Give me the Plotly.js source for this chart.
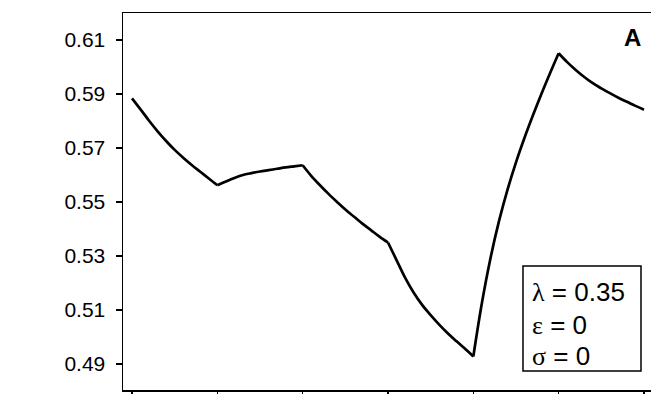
<!DOCTYPE html>
<html>
<head>
<meta charset="utf-8">
<script src="https://cdn.plot.ly/plotly-3.0.1.min.js"></script>
<style>
  html, body { margin: 0; padding: 0; overflow: hidden; background: #fff; }
  #chart { width: 680px; height: 394px; }
</style>
</head>
<body>
<div id="chart"></div>
<script>
// x positions (tick index units) and series values
const xValues = [0, 0.1, 0.2, 0.3, 0.4, 0.5, 0.6, 0.7, 0.8, 0.9, 1.0,
                 1.1, 1.2, 1.3, 1.4, 1.5, 1.6, 1.7, 1.8, 1.9, 2.0,
                 2.1, 2.2, 2.3, 2.4, 2.5, 2.6, 2.7, 2.8, 2.9, 3.0,
                 3.1, 3.2, 3.3, 3.4, 3.5, 3.6, 3.7, 3.8, 3.9, 4.0,
                 4.1, 4.2, 4.3, 4.4, 4.5, 4.6, 4.7, 4.8, 4.9, 5.0,
                 5.1, 5.2, 5.3, 5.4, 5.5, 5.6, 5.7, 5.8, 5.9, 6.0];
const yValues = [0.5884, 0.5843, 0.5801, 0.5762, 0.5726, 0.5693, 0.5664, 0.5637, 0.5612, 0.5587, 0.5562,
                 0.5576, 0.5589, 0.5600, 0.5607, 0.5613, 0.5618, 0.5623, 0.5628, 0.5632, 0.5636,
                 0.5597, 0.5563, 0.5531, 0.5501, 0.5472, 0.5446, 0.5420, 0.5396, 0.5372, 0.5350,
                 0.5285, 0.5220, 0.5165, 0.5119, 0.5081, 0.5046, 0.5014, 0.4985, 0.4957, 0.4928,
                 0.5125, 0.5290, 0.5428, 0.5545, 0.5647, 0.5738, 0.5822, 0.5902, 0.5978, 0.6051,
                 0.6018, 0.5989, 0.5963, 0.5940, 0.5921, 0.5903, 0.5886, 0.5871, 0.5856, 0.5842];
// indices in the arrays where the curve has a kink (segment boundaries)
const kinkIndex = [0, 10, 20, 30, 40, 50, 60];
const xTicks = [0, 1, 2, 3, 4, 5, 6];
const yTicks = [0.49, 0.51, 0.53, 0.55, 0.57, 0.59, 0.61];
const yTickLabels = ["0.49", "0.51", "0.53", "0.55", "0.57", "0.59", "0.61"];
const panelLabel = "A";
const paramLines = [
  ["λ", " = 0.35"],
  ["ε", " = 0"],
  ["σ", " = 0"]
];

const greek = t => '<span style="font-family:\'Liberation Serif\', \'DejaVu Serif\', serif">' + t + '</span>';

const annotations = [
  {
    xref: 'x', yref: 'y', x: 5.86, y: 0.6109,
    text: '<b>' + panelLabel + '</b>', showarrow: false,
    xanchor: 'center', yanchor: 'middle',
    font: {family: 'Liberation Sans, Arial, sans-serif', size: 24, color: '#000'}
  }
];
const lineY = [0.5168, 0.5046, 0.4928];
paramLines.forEach((p, i) => {
  annotations.push({
    xref: 'x', yref: 'y', x: 4.66, y: lineY[i],
    text: greek(p[0]) + p[1], showarrow: false,
    xanchor: 'left', yanchor: 'middle',
    font: {family: 'Liberation Sans, Arial, sans-serif', size: 26, color: '#000'}
  });
});

const data = [];
for (let s = 0; s < kinkIndex.length - 1; s++) {
  const a = kinkIndex[s], b = kinkIndex[s + 1] + 1;
  data.push({
    x: xValues.slice(a, b), y: yValues.slice(a, b),
    type: 'scatter', mode: 'lines',
    line: {color: '#000', width: 2.7, shape: 'spline', smoothing: 1},
    hoverinfo: 'skip'
  });
}

const layout = {
  width: 680, height: 394,
  margin: {l: 123, r: 0, t: 13, b: 4, pad: 0},
  paper_bgcolor: '#fff', plot_bgcolor: '#fff',
  showlegend: false,
  font: {family: 'Liberation Sans, Arial, sans-serif', size: 21, color: '#000'},
  xaxis: {
    range: [-0.1055, 6.422],
    tickvals: xTicks, ticktext: xTicks.map(() => ''),
    ticks: 'outside', ticklen: 6, tickwidth: 1.2, tickcolor: '#000',
    showline: true, linecolor: '#000', linewidth: 1.5, mirror: true,
    showgrid: false, zeroline: false, showticklabels: false
  },
  yaxis: {
    range: [0.48037, 0.62],
    tickvals: yTicks, ticktext: yTickLabels,
    ticks: 'outside', ticklen: 6, tickwidth: 1.2, tickcolor: '#000',
    ticklabelstandoff: 6,
    showline: true, linecolor: '#000', linewidth: 1.5, mirror: true,
    showgrid: false, zeroline: false,
    tickfont: {family: 'Liberation Sans, Arial, sans-serif', size: 21, color: '#000'}
  },
  shapes: [{
    type: 'rect', xref: 'x', yref: 'y',
    x0: 4.582, x1: 5.965, y0: 0.48741, y1: 0.52630,
    line: {color: '#000', width: 1.5}, fillcolor: 'rgba(0,0,0,0)'
  }],
  annotations: annotations
};

Plotly.newPlot('chart', data, layout, {staticPlot: true, displayModeBar: false});
</script>
</body>
</html>
